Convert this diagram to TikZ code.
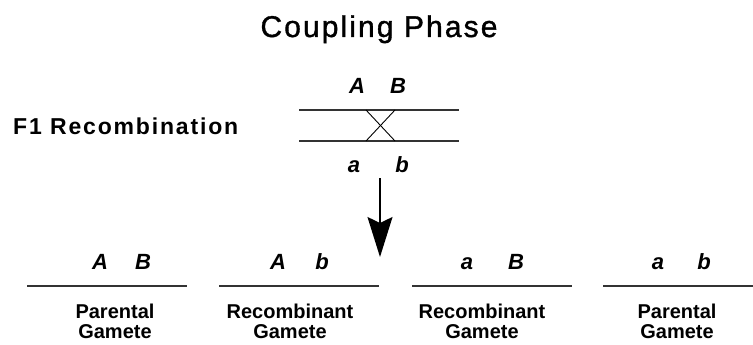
\documentclass[tikz,border=0pt]{standalone}
\usepackage{fontspec}
\setmainfont{Liberation Sans}
\usetikzlibrary{arrows.meta}
\usetikzlibrary{positioning}

\tikzset{
  allele/.style={font=\fontsize{22}{22}\selectfont\bfseries\itshape, inner sep=0pt, anchor=base},
  gamlabel/.style={font=\fontsize{20}{20}\selectfont\bfseries, align=center, inner sep=0pt, anchor=north},
  chrom/.style={line width=1.8pt, draw=black!80},
}

\begin{document}
\begin{tikzpicture}[x=1pt,y=-1pt]
                \useasboundingbox (0,0) rectangle (753,345);
                \node[anchor=base, inner sep=0pt, font=\fontsize{30}{30}\selectfont\addfontfeature{LetterSpace=7,FakeBold=1.2}] (title) at (379,37) {Coupling Phase};
                \node[anchor=base west, inner sep=0pt, font=\fontsize{23}{23}\selectfont\bfseries\addfontfeature{LetterSpace=8}] (f1) at (13,134) {F1 Recombination};
                \draw[chrom] (299,110) -- (459,110);
                \draw[chrom] (299,141) -- (459,141);
                \draw[line width=0.9pt] (366,110) -- (395,141);
                \draw[line width=0.9pt] (395,110) -- (366,141);
                \node[allele] (topA) at (357,93) {A};
                \node[allele] (topB) at (398,93) {B};
                \node[allele] (bota) at (354,172) {a};
                \node[allele] (botb) at (402,172) {b};
                \coordinate (arrtop) at (380,178);
                \coordinate (arrtip) at (380,257);
                \draw[line width=1.4pt, -{Stealth[length=40pt,width=25pt,inset=6pt]}] (arrtop) -- (arrtip);
                \foreach \n/\xa/\xb/\la/\lb/\pa/\pb/\lx/\txt in {1/27/187/A/B/100/143/115/Parental,
                        2/219/379/A/b/278/322/290/Recombinant, 3/412/572/a/B/467/516/482/Recombinant,
                        4/603/753/a/b/658/704/677/Parental} {
                    \draw[chrom] (\xa,286) -- (\xb,286);
                    \node[allele] (gam\n-left) at (\pa,269) {\la};
                    \node[allele] (gam\n-right) at (\pb,269) {\lb};
                    \node[gamlabel] (gam\n-text) at (\lx,304) {\txt\\Gamete};
                }
            \end{tikzpicture}
\end{document}
